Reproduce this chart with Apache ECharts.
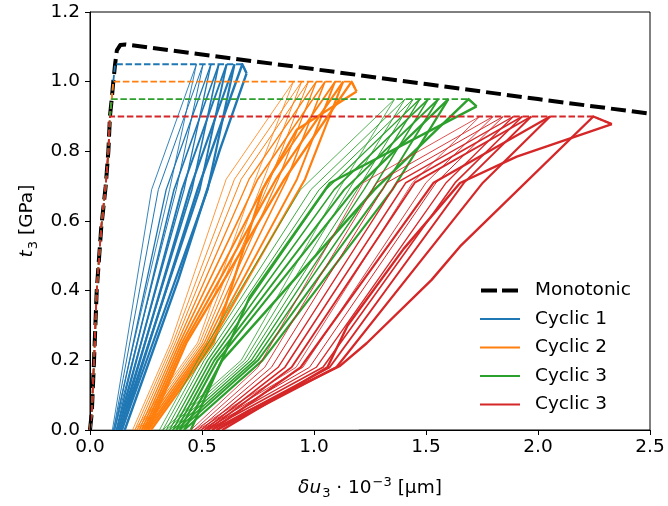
<!DOCTYPE html>
<html>
<head>
<meta charset="utf-8">
<script src="https://cdn.jsdelivr.net/npm/echarts@6/dist/echarts.min.js"></script>
<style>html,body{margin:0;padding:0;background:#fff}#chart{width:668px;height:506px}</style>
</head>
<body>
<div id="chart"></div>
<script>
// ---------------- data ----------------
const xTickValues = [0.0, 0.5, 1.0, 1.5, 2.0, 2.5];
const yTickValues = [0.0, 0.2, 0.4, 0.6, 0.8, 1.0, 1.2];

const legendNames = ['Monotonic', 'Cyclic 1', 'Cyclic 2', 'Cyclic 3a', 'Cyclic 3b'];
const legendLabels = ['Monotonic', 'Cyclic 1', 'Cyclic 2', 'Cyclic 3', 'Cyclic 3'];

const baseLine = [[0, 0], [1.2, 0]];

const monotonic = [[0,0],[0.008,0.05],[0.018,0.2],[0.03,0.4],[0.05,0.58],[0.07,0.7],[0.082,0.8],
  [0.089,0.9],[0.097,0.95],[0.104,1.0],[0.112,1.05],[0.12,1.09],[0.135,1.105],[0.16,1.107],
  [0.5,1.078],[1.0,1.036],[1.5,0.993],[2.0,0.95],[2.5,0.908]];

const cyclic1Envelope = [[0,0],[0.008,0.05],[0.018,0.2],[0.03,0.4],[0.05,0.58],[0.07,0.7],[0.082,0.8],
  [0.089,0.9],[0.097,0.95],[0.104,1.0],[0.112,1.05],[0.680,1.05],[0.699,1.024]];
const cyclic2Envelope = [[0,0],[0.008,0.05],[0.018,0.2],[0.03,0.4],[0.05,0.58],[0.07,0.7],[0.082,0.8],
  [0.089,0.9],[0.097,0.95],[0.104,1.0],[1.168,1.0],[1.190,0.972]];
const cyclic3aEnvelope = [[0,0],[0.008,0.05],[0.018,0.2],[0.03,0.4],[0.05,0.58],[0.07,0.7],[0.082,0.8],
  [0.089,0.9],[0.097,0.95],[1.690,0.95],[1.726,0.929]];
const cyclic3bEnvelope = [[0,0],[0.008,0.05],[0.018,0.2],[0.03,0.4],[0.05,0.58],[0.07,0.7],[0.082,0.8],
  [0.089,0.9],[2.247,0.9],[2.330,0.878]];

const cyclic1Loops = [
  [[0.100,0],[0.275,0.69],[0.475,1.05]],
  [[0.475,1.05],[0.355,0.69],[0.105,0]],
  [[0.105,0],[0.305,0.69],[0.505,1.05]],
  [[0.505,1.05],[0.385,0.69],[0.110,0]],
  [[0.110,0],[0.340,0.69],[0.540,1.05]],
  [[0.540,1.05],[0.420,0.69],[0.118,0]],
  [[0.118,0],[0.375,0.69],[0.575,1.05]],
  [[0.575,1.05],[0.455,0.69],[0.125,0]],
  [[0.125,0],[0.410,0.69],[0.610,1.05]],
  [[0.610,1.05],[0.490,0.69],[0.133,0]],
  [[0.133,0],[0.445,0.69],[0.645,1.05]],
  [[0.645,1.05],[0.525,0.69],[0.142,0]],
  [[0.142,0],[0.480,0.69],[0.680,1.05],[0.699,1.024]],
  [[0.699,1.024],[0.580,0.805],[0.394,0.431],[0.155,0]]
];

const cyclic2Loops = [
  [[0.190,0],[0.360,0.25],[0.608,0.72],[0.908,1.0]],
  [[0.908,1.0],[0.738,0.72],[0.480,0.25],[0.200,0]],
  [[0.200,0],[0.370,0.25],[0.645,0.72],[0.945,1.0]],
  [[0.945,1.0],[0.775,0.72],[0.490,0.25],[0.210,0]],
  [[0.210,0],[0.380,0.25],[0.675,0.72],[0.975,1.0]],
  [[0.975,1.0],[0.805,0.72],[0.500,0.25],[0.220,0]],
  [[0.220,0],[0.390,0.25],[0.710,0.72],[1.010,1.0]],
  [[1.010,1.0],[0.840,0.72],[0.510,0.25],[0.230,0]],
  [[0.230,0],[0.400,0.25],[0.749,0.72],[1.049,1.0]],
  [[1.049,1.0],[0.879,0.72],[0.520,0.25],[0.240,0]],
  [[0.240,0],[0.410,0.25],[0.794,0.72],[1.094,1.0]],
  [[1.094,1.0],[0.924,0.72],[0.530,0.25],[0.250,0]],
  [[0.250,0],[0.420,0.25],[0.830,0.72],[1.130,1.0]],
  [[1.130,1.0],[0.960,0.72],[0.540,0.25],[0.260,0]],
  [[0.260,0],[0.430,0.25],[0.868,0.72],[1.168,1.0],[1.190,0.972]],
  [[1.190,0.972],[0.923,0.862],[0.770,0.690],[0.552,0.25],[0.272,0]]
];

const cyclic3aLoops = [
  [[0.310,0],[0.480,0.2],[0.940,0.69],[1.360,0.95]],
  [[1.360,0.95],[1.110,0.69],[0.675,0.2],[0.325,0]],
  [[0.325,0],[0.495,0.2],[0.986,0.69],[1.406,0.95]],
  [[1.406,0.95],[1.156,0.69],[0.690,0.2],[0.340,0]],
  [[0.340,0],[0.510,0.2],[1.023,0.69],[1.443,0.95]],
  [[1.443,0.95],[1.193,0.69],[0.705,0.2],[0.355,0]],
  [[0.355,0],[0.525,0.2],[1.053,0.69],[1.473,0.95]],
  [[1.473,0.95],[1.223,0.69],[0.720,0.2],[0.370,0]],
  [[0.370,0],[0.540,0.2],[1.090,0.69],[1.510,0.95]],
  [[1.510,0.95],[1.260,0.69],[0.735,0.2],[0.385,0]],
  [[0.385,0],[0.555,0.2],[1.135,0.69],[1.555,0.95]],
  [[1.555,0.95],[1.305,0.69],[0.750,0.2],[0.400,0]],
  [[0.400,0],[0.570,0.2],[1.180,0.69],[1.600,0.95]],
  [[1.600,0.95],[1.350,0.69],[0.770,0.2],[0.420,0]],
  [[0.420,0],[0.590,0.2],[1.270,0.69],[1.690,0.95],[1.726,0.929]],
  [[1.726,0.929],[1.071,0.709],[0.714,0.383],[0.450,0]]
];

const cyclic3bLoops = [
  [[0.450,0],[0.750,0.18],[1.220,0.71],[1.740,0.9]],
  [[1.740,0.9],[1.440,0.71],[0.920,0.18],[0.465,0]],
  [[0.465,0],[0.780,0.18],[1.280,0.71],[1.800,0.9]],
  [[1.800,0.9],[1.500,0.71],[0.950,0.18],[0.480,0]],
  [[0.480,0],[0.810,0.18],[1.325,0.71],[1.845,0.9]],
  [[1.845,0.9],[1.545,0.71],[0.980,0.18],[0.495,0]],
  [[0.495,0],[0.840,0.18],[1.370,0.71],[1.890,0.9]],
  [[1.890,0.9],[1.590,0.71],[1.010,0.18],[0.510,0]],
  [[0.510,0],[0.870,0.18],[1.410,0.71],[1.930,0.9]],
  [[1.930,0.9],[1.630,0.71],[1.040,0.18],[0.525,0]],
  [[0.525,0],[0.900,0.18],[1.450,0.71],[1.970,0.9]],
  [[1.970,0.9],[1.670,0.71],[1.070,0.18],[0.545,0]],
  [[0.545,0],[0.940,0.18],[1.534,0.71],[2.054,0.9]],
  [[2.054,0.9],[1.754,0.71],[1.100,0.18],[0.565,0]],
  [[0.565,0],[0.714,0.057],[1.116,0.184],[1.235,0.249],[1.525,0.431],[1.652,0.527],[2.247,0.9],[2.330,0.878]],
  [[2.330,0.878],[1.905,0.785],[1.652,0.709],[1.400,0.520],[1.150,0.300],[1.060,0.180],[0.590,0]]
];

// ---------------- styles ----------------
const FONT = 'DejaVu Sans';
const FS = 18.5;
const FS_SCRIPT = 13;
const groupColors = ['#1f77b4', '#ff7f0e', '#2ca02c', '#d62728'];
const cycleWidths = [0.8, 0.9, 1.0, 1.3, 1.6, 1.9, 2.2, 2.4];
// legend glyphs: bounding box 40x14 (corner specks fix the box), bars drawn inside
const ICON_SOLID = 'path://M0,0L0.01,0L0.01,0.01Z M0,6L40,6L40,8L0,8Z M39.99,14L40,14L40,13.99Z';
const ICON_DASH = 'path://M0,0L0.01,0L0.01,0.01Z M1,5L17,5L17,9L1,9Z M22,5L38,5L38,9L22,9Z M39.99,14L40,14L40,13.99Z';

const groups = [
  {name: legendNames[1], loops: cyclic1Loops, env: cyclic1Envelope, color: groupColors[0]},
  {name: legendNames[2], loops: cyclic2Loops, env: cyclic2Envelope, color: groupColors[1]},
  {name: legendNames[3], loops: cyclic3aLoops, env: cyclic3aEnvelope, color: groupColors[2]},
  {name: legendNames[4], loops: cyclic3bLoops, env: cyclic3bEnvelope, color: groupColors[3]}
];

function mk(name, data, color, width, type, extra) {
  return Object.assign({
    type: 'line', name: name, data: data, symbol: 'none', showSymbol: false,
    silent: true, animation: false,
    lineStyle: {color: color, width: width, type: type, cap: 'butt', join: 'round'},
    itemStyle: {color: color}
  }, extra || {});
}

const series = [];
series.push(mk('base', baseLine, '#b5b5b5', 2, 'solid', {clip: false}));
series.push(mk(legendNames[0], monotonic, '#000000', 4, [15, 6]));
groups.forEach(g => {
  const nC = Math.ceil(g.loops.length / 2);
  g.loops.forEach((pts, j) => {
    const c = Math.floor(j / 2) + (8 - nC);
    series.push(mk(g.name, pts, g.color, cycleWidths[c], 'solid'));
  });
  series.push(mk(g.name, g.env, g.color, 1.8, [6.5, 2.7]));
});

const axisText = {color: '#000', fontFamily: FONT, fontSize: FS};
const mathRich = {
  t: {fontFamily: FONT, fontSize: FS, color: '#000', lineHeight: 24, verticalAlign: 'middle'},
  i: {fontStyle: 'italic', fontFamily: FONT, fontSize: FS, color: '#000', lineHeight: 24, verticalAlign: 'middle'},
  sub: {fontFamily: FONT, fontSize: FS_SCRIPT, color: '#000', lineHeight: 24, verticalAlign: 'bottom', padding: [0, 0, 0, 1]},
  sup: {fontFamily: FONT, fontSize: FS_SCRIPT, color: '#000', lineHeight: 24, verticalAlign: 'top', padding: [0, 0, 0, 1]}
};

const option = {
  animation: false,
  backgroundColor: '#fff',
  grid: {left: 90, right: 18, top: 12, bottom: 76, show: true, borderColor: '#000', borderWidth: 1,
         containLabel: false, outerBoundsMode: 'none'},
  legend: {
    orient: 'vertical', left: 480, top: 281, padding: 0,
    itemWidth: 40, itemHeight: 14, itemGap: 9.5, selectedMode: false, symbolKeepAspect: false,
    textStyle: {color: '#000', fontFamily: FONT, fontSize: FS, padding: [0, 0, 0, 10]},
    formatter: name => legendLabels[legendNames.indexOf(name)],
    data: [
      {name: legendNames[0], icon: ICON_DASH, itemStyle: {color: '#000', borderWidth: 0}},
      {name: legendNames[1], icon: ICON_SOLID, itemStyle: {color: groupColors[0], borderWidth: 0}},
      {name: legendNames[2], icon: ICON_SOLID, itemStyle: {color: groupColors[1], borderWidth: 0}},
      {name: legendNames[3], icon: ICON_SOLID, itemStyle: {color: groupColors[2], borderWidth: 0}},
      {name: legendNames[4], icon: ICON_SOLID, itemStyle: {color: groupColors[3], borderWidth: 0}}
    ]
  },
  xAxis: {
    type: 'value', min: xTickValues[0], max: xTickValues[xTickValues.length - 1], interval: 0.5, z: 5,
    axisLine: {show: true, onZero: false, lineStyle: {color: '#000', width: 1}},
    axisTick: {show: true, length: 5, lineStyle: {color: '#000', width: 1}},
    axisLabel: Object.assign({margin: 8, formatter: v => v.toFixed(1)}, axisText),
    splitLine: {show: false},
    name: '{i|δu}{sub|3}{t| · 10}{sup|−3}{t| [µm]}', nameLocation: 'middle', nameGap: 46,
    nameTextStyle: Object.assign({rich: mathRich}, axisText)
  },
  yAxis: {
    type: 'value', min: yTickValues[0], max: yTickValues[yTickValues.length - 1], interval: 0.2, z: 5,
    axisLine: {show: true, onZero: false, lineStyle: {color: '#000', width: 1}},
    axisTick: {show: true, length: 5, lineStyle: {color: '#000', width: 1}},
    axisLabel: Object.assign({margin: 10, formatter: v => v.toFixed(1)}, axisText),
    splitLine: {show: false},
    name: '{i|t}{sub|3}{t| [GPa]}', nameLocation: 'middle', nameGap: 48, nameRotate: 90,
    nameTextStyle: Object.assign({rich: mathRich}, axisText)
  },
  series: series
};

const chart = echarts.init(document.getElementById('chart'), null, {renderer: 'canvas'});
chart.setOption(option);
</script>
</body>
</html>
